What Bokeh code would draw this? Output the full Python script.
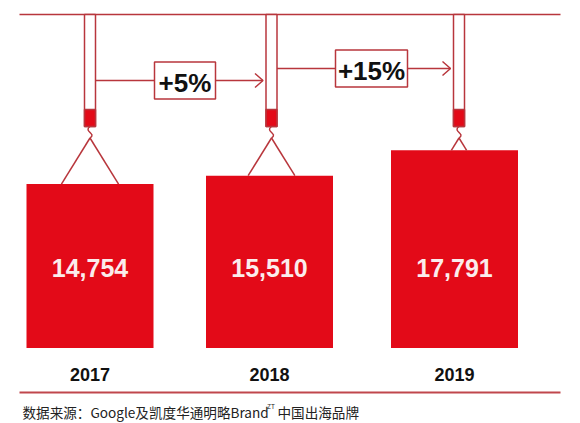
import numpy as np
from bokeh.plotting import figure
from bokeh.models import Range1d, ColumnDataSource
from bokeh.core.properties import value
from bokeh.embed import file_html
from bokeh.resources import INLINE

# ---- data ----
years = ["2017", "2018", "2019"]
revenue = [14754, 15510, 17791]
value_labels = ["14,754", "15,510", "17,791"]
growth_labels = ["+5%", "+15%"]
source_main = "数据来源：Google及凯度华通明略Brand"
source_sup = "ZT"
source_tail = "中国出海品牌"

# ---- layout (page pixel coordinates) ----
W, H = 580, 423
centers = [89.5, 269.0, 454.0]       # bar centres
tube_x = [89.5, 271.0, 458.5]
BAR_W = 127
BASE_PX = 347.5                       # bar baseline
K = 0.01111                           # px per unit
TOP_Y = 14
TUBE_W = 11
TUBE_BOT = 126
TUBE_RED = 109
APEX_Y = 137.5
SLOPE = 0.62
LINE_C = "#b8363c"
RED = "#e30a18"

p = figure(width=W, height=H, output_backend="svg", toolbar_location=None,
           x_range=Range1d(0, W), y_range=Range1d(H, 0),
           min_border=0, outline_line_color=None, background_fill_color="white",
           border_fill_color="white")
p.axis.visible = False
p.grid.visible = False

# value range mapped so that BASE_PX <-> 0
v_bottom = (BASE_PX - H) / K
v_top = BASE_PX / K
p.extra_y_ranges = {"val": Range1d(v_bottom, v_top)}

# top and bottom rules
p.segment(x0=[19, 19], y0=[TOP_Y, 392], x1=[560, 560], y1=[TOP_Y, 392],
          line_color=[LINE_C, "#c0474c"], line_width=[1.6, 2])

# bars
src = ColumnDataSource(dict(x=centers, top=revenue, lab=value_labels, yr=years))
p.vbar(x="x", top="top", bottom=0, width=BAR_W, source=src, y_range_name="val",
       fill_color=RED, line_color=None)

# triangle straps (from bar top to the hook apex)
apex_val = (BASE_PX - APEX_Y) / K
rev = np.array(revenue, dtype=float)
half = SLOPE * (apex_val - rev) * K
cx = np.array(tube_x)
p.segment(x0=np.concatenate([cx - half, cx + half]), y0=np.concatenate([rev, rev]),
          x1=np.concatenate([cx, cx]), y1=[apex_val] * 6,
          y_range_name="val", line_color=LINE_C, line_width=1.5)

# tubes
p.quad(left=cx - TUBE_W / 2, right=cx + TUBE_W / 2, top=[TOP_Y] * 3, bottom=[TUBE_BOT] * 3,
       fill_color="white", line_color=LINE_C, line_width=1.5)
p.quad(left=cx - TUBE_W / 2, right=cx + TUBE_W / 2, top=[TUBE_RED] * 3, bottom=[TUBE_BOT] * 3,
       fill_color=RED, line_color=LINE_C, line_width=1.5)

# hooks
p.bezier(x0=cx, y0=[TUBE_BOT] * 3, x1=cx, y1=[APEX_Y] * 3,
         cx0=cx - 7, cy0=[TUBE_BOT + 5] * 3, cx1=cx + 7, cy1=[TUBE_BOT + 7] * 3,
         line_color=LINE_C, line_width=1.5)

# growth arrows
arrow_y = [80, 68]
ax0 = [cx[0] + TUBE_W / 2, cx[1] + TUBE_W / 2]
ax1 = [cx[1] - TUBE_W / 2 - 3, cx[2] - TUBE_W / 2 - 3]
p.segment(x0=ax0, y0=arrow_y, x1=ax1, y1=arrow_y, line_color=LINE_C, line_width=1.5)
p.multi_line(xs=[[a - 8, a, a - 8] for a in ax1],
             ys=[[y - 7, y, y + 7] for y in arrow_y],
             line_color=LINE_C, line_width=1.5)
box_l = [154, 335]
box_r = [215, 407]
box_half_h = [18.5, 18.5]
p.quad(left=box_l, right=box_r,
       top=[y - h for y, h in zip(arrow_y, box_half_h)],
       bottom=[y + h for y, h in zip(arrow_y, box_half_h)],
       fill_color="white", line_color=LINE_C, line_width=1.5)
p.text(x=[(a + b) / 2 for a, b in zip(box_l, box_r)], y=[y + 2 for y in arrow_y],
       text=growth_labels, text_align="center", text_baseline="middle",
       text_font=value("Liberation Sans"), text_font_style="bold",
       text_font_size="26px", text_color="#111111")

# value labels inside bars
p.text(x="x", y=267, text="lab", source=src, text_align="center", text_baseline="middle",
       text_font=value("Liberation Sans"), text_font_style="bold",
       text_font_size="25px", text_color="#fbecec")

# year labels
p.text(x="x", y=374, text="yr", source=src, text_align="center", text_baseline="middle",
       text_font=value("Liberation Sans"), text_font_style="bold",
       text_font_size="18px", text_color="#111111")

# source note
p.text(x=[22], y=[411], text=[source_main], text_align="left", text_baseline="middle",
       text_font=value("Noto Sans CJK SC"), text_font_size="13.6px", text_color="#222222")
p.text(x=[266.5], y=[405.5], text=[source_sup], text_align="left", text_baseline="middle",
       text_font=value("Noto Sans CJK SC"), text_font_size="6.5px", text_color="#222222")
p.text(x=[277], y=[411], text=[source_tail], text_align="left", text_baseline="middle",
       text_font=value("Noto Sans CJK SC"), text_font_size="13.6px", text_color="#222222")

open("out.html", "w").write(file_html(p, INLINE))
